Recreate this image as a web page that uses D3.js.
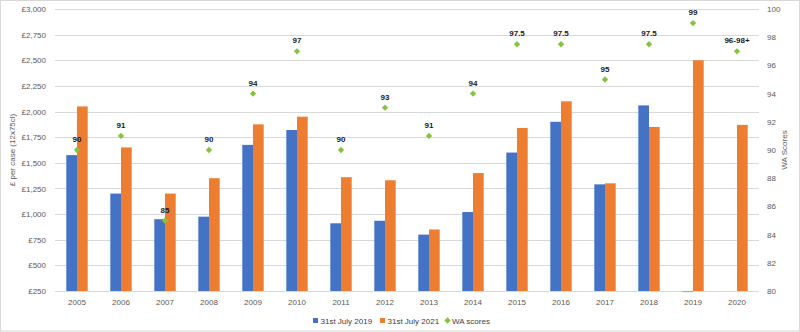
<!DOCTYPE html>
<html>
<head>
<meta charset="utf-8">
<script src="https://cdn.jsdelivr.net/npm/d3@7"></script>
<style>
  body { margin: 0; background: #fff; }
  text { font-family: "Liberation Sans", "DejaVu Sans", sans-serif; }
</style>
</head>
<body>
<div id="chart-root"></div>
<script>
var years = ["2005", "2006", "2007", "2008", "2009", "2010", "2011", "2012",
             "2013", "2014", "2015", "2016", "2017", "2018", "2019", "2020"];
var july2019 = [1575, 1200, 950, 975, 1675, 1820, 910, 935,
                800, 1020, 1600, 1900, 1290, 2060, 0, null];
var july2021 = [2050, 1650, 1200, 1350, 1875, 1950, 1360, 1330,
                850, 1400, 1840, 2100, 1300, 1850, 2500, 1870];
var waScores = [90, 91, 85, 90, 94, 97, 90, 93, 91, 94, 97.5, 97.5, 95, 97.5, 99, 97];
var waLabels = ["90", "91", "85", "90", "94", "97", "90", "93", "91", "94",
                "97.5", "97.5", "95", "97.5", "99", "96-98+"];
var priceTicks = [250, 500, 750, 1000, 1250, 1500, 1750, 2000, 2250, 2500, 2750, 3000];
var scoreTicks = [80, 82, 84, 86, 88, 90, 92, 94, 96, 98, 100];
var seriesNames = ["31st July 2019", "31st July 2021", "WA scores"];

(function () {
  var margin = { top: 9, left: 55, right: 41, bottom: 41 },
      fullW = 800, fullH = 332,
      width  = fullW - margin.left - margin.right,
      height = fullH - margin.top - margin.bottom;

  var svg = d3.select("#chart-root")
    .append("svg")
      .attr("width", fullW)
      .attr("height", fullH);

  // chart border
  svg.append("rect")
    .attr("x", 0.5).attr("y", 0.5)
    .attr("width", fullW - 1).attr("height", fullH - 1.5)
    .attr("fill", "none")
    .attr("stroke", "#d9d9d9");

  var g = svg.append("g")
    .attr("transform", "translate(" + margin.left + "," + margin.top + ")");

  var x = d3.scaleBand()
    .domain(years)
    .range([0, width]);

  var y = d3.scaleLinear()
    .domain([250, 3000])
    .range([height, 0]);

  var y2 = d3.scaleLinear()
    .domain([80, 100])
    .range([height, 0]);

  var barW = 10.7;

  // gridlines
  g.append("g")
    .selectAll("line")
    .data(priceTicks)
    .enter().append("line")
      .attr("x1", 0).attr("x2", width)
      .attr("y1", function (d) { return Math.round(y(d)) + 0.5; })
      .attr("y2", function (d) { return Math.round(y(d)) + 0.5; })
      .attr("stroke", "#d9d9d9")
      .attr("stroke-width", 1);

  // left axis
  var yAxis = g.append("g")
    .call(d3.axisLeft(y).tickValues(priceTicks).tickSize(0).tickPadding(9)
      .tickFormat(function (d) { return "£" + d3.format(",")(d); }));
  yAxis.select(".domain").remove();
  yAxis.selectAll("text").attr("fill", "#595959").style("font-size", "8px");

  // right axis
  var y2Axis = g.append("g")
    .attr("transform", "translate(" + width + ",0)")
    .call(d3.axisRight(y2).tickValues(scoreTicks).tickSize(0).tickPadding(8));
  y2Axis.select(".domain").remove();
  y2Axis.selectAll("text").attr("fill", "#595959").style("font-size", "8px");

  // bottom axis
  var xAxis = g.append("g")
    .attr("transform", "translate(0," + height + ")")
    .call(d3.axisBottom(x).tickSize(0).tickPadding(8));
  xAxis.select(".domain").remove();
  xAxis.selectAll("text").attr("fill", "#595959").style("font-size", "8px");

  // bars
  function drawBars(values, color, offset) {
    g.append("g")
      .selectAll("rect")
      .data(values.map(function (v, i) { return { year: years[i], v: v }; })
        .filter(function (d) { return d.v !== null; }))
      .enter().append("rect")
        .attr("x", function (d) { return x(d.year) + x.bandwidth() / 2 + offset; })
        .attr("width", barW)
        .attr("y", function (d) { return d.v < 250 ? y(250) : y(d.v); })
        .attr("height", function (d) { return d.v < 250 ? 1.2 : y(250) - y(d.v); })
        .attr("fill", color)
        .attr("opacity", function (d) { return d.v < 250 ? 0.45 : 1; });
  }
  drawBars(july2019, "#4472c4", -barW);
  drawBars(july2021, "#ed7d31", 0);

  // WA score markers (square turned 45 degrees)
  var marker = d3.symbol().type(d3.symbolSquare).size(20);
  g.append("g")
    .selectAll("path")
    .data(waScores)
    .enter().append("path")
      .attr("d", marker)
      .attr("transform", function (d, i) {
        return "translate(" + (x(years[i]) + x.bandwidth() / 2) + "," + y2(d) + ") rotate(45)";
      })
      .attr("fill", "#84c441");

  g.append("g")
    .selectAll("text")
    .data(waScores)
    .enter().append("text")
      .attr("x", function (d, i) { return x(years[i]) + x.bandwidth() / 2; })
      .attr("y", function (d) { return y2(d) - 8; })
      .attr("text-anchor", "middle")
      .attr("fill", "#1a1a1a")
      .style("font-size", "8px")
      .style("font-weight", "bold")
      .text(function (d, i) { return waLabels[i]; });

  // axis titles
  svg.append("text")
    .attr("transform", "translate(15," + (margin.top + height / 2) + ") rotate(-90)")
    .attr("text-anchor", "middle")
    .attr("fill", "#595959")
    .style("font-size", "8px")
    .text("£ per case (12x75cl)");

  svg.append("text")
    .attr("transform", "translate(787," + (margin.top + height / 2) + ") rotate(-90)")
    .attr("text-anchor", "middle")
    .attr("fill", "#595959")
    .style("font-size", "8px")
    .text("WA Scores");

  // legend
  var legend = svg.append("g")
    .attr("transform", "translate(313,321)");
  var legendX = [0, 67, 132];
  seriesNames.forEach(function (name, i) {
    var item = legend.append("g").attr("transform", "translate(" + legendX[i] + ",0)");
    if (i < 2) {
      item.append("rect")
        .attr("x", 0).attr("y", -3)
        .attr("width", 5).attr("height", 5)
        .attr("fill", i === 0 ? "#4472c4" : "#ed7d31");
    } else {
      item.append("path")
        .attr("d", marker)
        .attr("transform", "translate(2.5,-0.5) rotate(45)")
        .attr("fill", "#84c441");
    }
    item.append("text")
      .attr("x", i < 2 ? 7.5 : 7)
      .attr("y", 2.5)
      .attr("fill", "#404040")
      .style("font-size", "8px")
      .text(name);
  });
})();
</script>
</body>
</html>
